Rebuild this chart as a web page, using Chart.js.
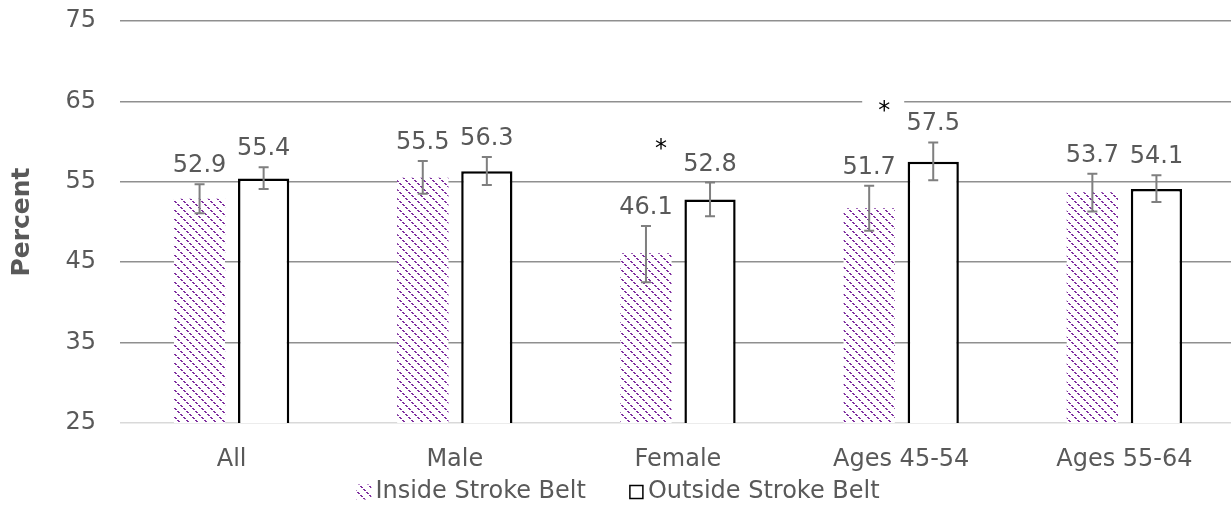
<!DOCTYPE html>
<html>
<head>
<meta charset="utf-8">
<script src="https://cdn.jsdelivr.net/npm/chart.js@4.4.1/dist/chart.umd.min.js"></script>
<style>
  html, body { margin:0; padding:0; background:#fff; overflow:hidden; }
  #wrap { width:1236px; height:510px; }
</style>
</head>
<body>
<div id="wrap"><canvas id="c" width="1236" height="510"></canvas></div>
<script>
// ---- data ----
const categories = ['All', 'Male', 'Female', 'Ages 45-54', 'Ages 55-64'];
const seriesNames = ['Inside Stroke Belt', 'Outside Stroke Belt'];
const insideValues = [52.9, 55.5, 46.1, 51.7, 53.7];
const insideLower  = [51.1, 53.5, 42.5, 48.9, 51.3];
const insideUpper  = [54.7, 57.6, 49.5, 54.5, 56.0];
const outsideValues = [55.4, 56.3, 52.8, 57.5, 54.1];
const outsideLower  = [54.1, 54.6, 50.7, 55.2, 52.5];
const outsideUpper  = [56.8, 58.1, 54.9, 59.9, 55.8];
const significant = [false, false, true, true, false];
const yTicks = [25, 35, 45, 55, 65, 75];

const FONT = '"DejaVu Sans", Verdana, sans-serif';
const GRAY_TEXT = '#595959';
const PURPLE = '#8030A0';

function makeHatch() {
  const n = 9;
  const t = document.createElement('canvas');
  t.width = n; t.height = n;
  const g = t.getContext('2d');
  g.fillStyle = '#ffffff';
  g.fillRect(0, 0, n, n);
  g.fillStyle = PURPLE;
  for (let r = 0; r < n; r++) {
    if (r % 3 === 2) continue;
    g.fillRect(r % n, r, 1, 1);
    g.fillRect((r + 1) % n, r, 1, 1);
  }
  return document.getElementById('c').getContext('2d').createPattern(t, 'repeat');
}
const hatch = makeHatch();

const lowers = [insideLower, outsideLower];
const uppers = [insideUpper, outsideUpper];

const overlayPlugin = {
  id: 'overlay',
  afterDatasetsDraw(chart) {
    const ctx = chart.ctx;
    const y = chart.scales.y;
    ctx.save();
    // error bars
    ctx.strokeStyle = '#7f7f7f';
    ctx.lineWidth = 2;
    for (let d = 0; d < 2; d++) {
      const meta = chart.getDatasetMeta(d);
      meta.data.forEach((el, i) => {
        const yt = y.getPixelForValue(uppers[d][i]);
        const yb = y.getPixelForValue(lowers[d][i]);
        ctx.beginPath();
        ctx.moveTo(el.x, yt); ctx.lineTo(el.x, yb);
        ctx.moveTo(el.x - 5, yt); ctx.lineTo(el.x + 5, yt);
        ctx.moveTo(el.x - 5, yb); ctx.lineTo(el.x + 5, yb);
        ctx.stroke();
      });
    }
    // significance markers
    const m0 = chart.getDatasetMeta(0), m1 = chart.getDatasetMeta(1);
    ctx.font = '24px ' + FONT;
    ctx.textAlign = 'center';
    ctx.textBaseline = 'middle';
    significant.forEach((s, i) => {
      if (!s) return;
      const cx = (m0.data[i].x + m1.data[i].x) / 2 - 17;
      const cy = m1.data[i].y - 56;
      ctx.fillStyle = '#ffffff';
      ctx.fillRect(cx - 22, cy - 15, 42, 30);
      ctx.fillStyle = '#000000';
      ctx.fillText('*', cx, cy + 6);
    });
    // value labels (placed just above the upper error cap)
    ctx.fillStyle = GRAY_TEXT;
    ctx.textBaseline = 'alphabetic';
    for (let d = 0; d < 2; d++) {
      const meta = chart.getDatasetMeta(d);
      const vals = chart.data.datasets[d].data;
      meta.data.forEach((el, i) => {
        const yt = y.getPixelForValue(uppers[d][i]);
        ctx.fillText(vals[i].toFixed(1), el.x, yt - 12);
      });
    }
    ctx.restore();
  },
  afterDraw(chart) {
    // legend
    const ctx = chart.ctx;
    ctx.save();
    ctx.font = '24px ' + FONT;
    ctx.textBaseline = 'middle';
    ctx.textAlign = 'left';
    const box = 15, gap = 4, itemGap = 43;
    const widths = seriesNames.map(n => ctx.measureText(n).width);
    const total = widths.reduce((a, w) => a + box + gap + w, 0) + itemGap * (seriesNames.length - 1);
    let x = 618 - total / 2;
    const cy = 491;
    seriesNames.forEach((n, k) => {
      if (k === 0) {
        ctx.fillStyle = hatch;
        ctx.fillRect(x, cy - box / 2 + 1, box, box);
      } else {
        ctx.fillStyle = '#fff';
        ctx.fillRect(x + 1, cy - box / 2 + 2, box - 2, box - 2);
        ctx.strokeStyle = '#000';
        ctx.lineWidth = 1.5;
        ctx.strokeRect(x + 1, cy - box / 2 + 2, box - 2, box - 2);
      }
      ctx.fillStyle = GRAY_TEXT;
      ctx.fillText(n, x + box + gap, cy + 1);
      x += box + gap + widths[k] + itemGap;
    });
    ctx.restore();
  }
};

new Chart(document.getElementById('c'), {
  type: 'bar',
  data: {
    labels: categories,
    datasets: [
      {
        label: seriesNames[0],
        data: insideValues,
        backgroundColor: hatch,
        borderWidth: 0,
        barPercentage: 0.8,
        categoryPercentage: 0.574
      },
      {
        label: seriesNames[1],
        data: outsideValues,
        backgroundColor: '#ffffff',
        borderColor: '#000000',
        borderWidth: 2.5,
        barPercentage: 0.8,
        categoryPercentage: 0.574
      }
    ]
  },
  options: {
    responsive: false,
    animation: false,
    devicePixelRatio: 1,
    layout: { padding: { top: 21, right: 0, bottom: 0, left: 0 } },
    plugins: {
      legend: { display: false },
      tooltip: { enabled: false }
    },
    scales: {
      x: {
        grid: { display: false, drawTicks: false },
        border: { display: false },
        ticks: { color: GRAY_TEXT, font: { family: FONT, size: 24 }, padding: 22, maxRotation: 0 },
        afterFit(s) { s.height = 87; }
      },
      y: {
        min: 25, max: 75,
        afterBuildTicks(s) { s.ticks = yTicks.map(v => ({ value: v })); },
        grid: {
          drawTicks: false,
          lineWidth: 1.5,
          color: c => (c.tick && c.tick.value === 25) ? '#d9d9d9' : '#8f8f8f'
        },
        border: { display: false },
        ticks: { color: GRAY_TEXT, font: { family: FONT, size: 24 }, padding: 24 },
        title: {
          display: true, text: 'Percent', color: GRAY_TEXT,
          font: { family: FONT, size: 25, weight: 'bold' },
          padding: { top: 7, bottom: 0 }
        },
        afterFit(s) { s.width = 120; s.paddingTop = 0; s.paddingBottom = 0; }
      }
    }
  },
  plugins: [overlayPlugin]
});
</script>
</body>
</html>
